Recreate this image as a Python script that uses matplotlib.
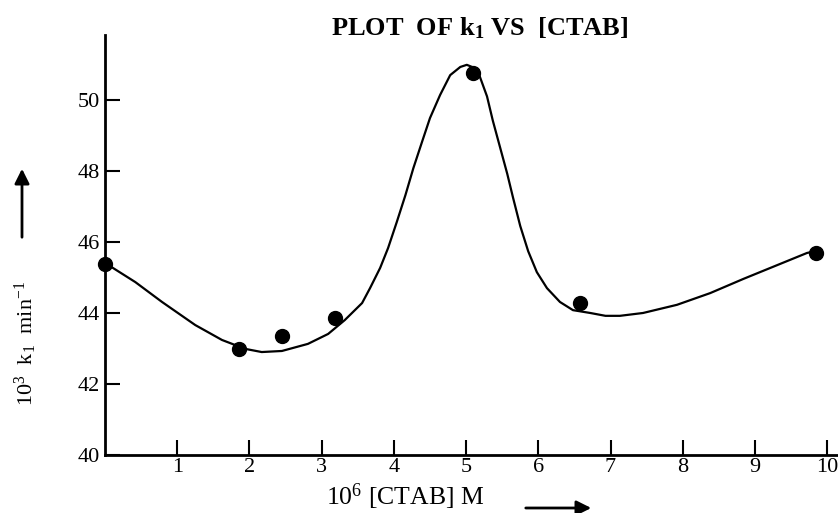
import matplotlib
matplotlib.use("Agg")
import matplotlib.pyplot as plt

# k1 vs [CTAB]: measured points plus the hand-drawn smooth curve through them

conc = [0.0, 1.86, 2.45, 3.19, 5.10, 6.58, 9.85]
k1 = [45.38, 42.99, 43.35, 43.86, 50.76, 44.28, 45.69]

curve_x = [0.00, 0.42, 0.79, 1.25, 1.62, 1.94, 2.17, 2.45, 2.81, 3.09, 3.32, 3.46,
           3.56, 3.67, 3.81, 3.92, 4.04, 4.16, 4.27, 4.39, 4.50, 4.64, 4.78, 4.92,
           5.01, 5.12, 5.19, 5.29, 5.37, 5.47, 5.57, 5.65, 5.75, 5.86, 5.98, 6.12,
           6.30, 6.48, 6.72, 6.93, 7.13, 7.45, 7.92, 8.38, 8.84, 9.31, 9.72, 9.85]
curve_y = [45.41, 44.87, 44.31, 43.66, 43.24, 42.99, 42.90, 42.93, 43.13, 43.41, 43.80, 44.08,
           44.28, 44.70, 45.27, 45.83, 46.56, 47.32, 48.08, 48.82, 49.49, 50.14, 50.70, 50.93,
           50.99, 50.90, 50.66, 50.10, 49.42, 48.67, 47.92, 47.25, 46.45, 45.74, 45.15, 44.70,
           44.31, 44.08, 44.00, 43.92, 43.92, 44.00, 44.23, 44.56, 44.96, 45.35, 45.69, 45.75]

x_ticks = [1, 2, 3, 4, 5, 6, 7, 8, 9, 10]
y_ticks = [40, 42, 44, 46, 48, 50]

plt.rcParams["font.family"] = ["Liberation Serif", "DejaVu Serif"]
plt.rcParams["mathtext.fontset"] = "custom"
plt.rcParams["mathtext.rm"] = "Liberation Serif"
plt.rcParams["mathtext.it"] = "Liberation Serif:italic"
plt.rcParams["mathtext.bf"] = "Liberation Serif:bold"

W, H = 838, 513
fig = plt.figure(figsize=(W / 100, H / 100), dpi=100)
ax = fig.add_axes([105 / W, 1 - 455 / H, 1 - 105 / W, 420 / H])

ax.plot(curve_x, curve_y, color="black", lw=1.6, zorder=2, solid_joinstyle="round")
ax.plot(conc, k1, "o", color="black", ms=10, zorder=3, clip_on=False)

ax.set_xlim(0, 10.15)
ax.set_ylim(40, 51.83)
ax.set_xticks(x_ticks)
ax.set_yticks(y_ticks)
ax.tick_params(axis="both", direction="in", length=11, width=1.5,
               labelsize=16, pad=2)
ax.tick_params(axis="y", pad=4)

for side in ["top", "right"]:
    ax.spines[side].set_visible(False)
for side in ["left", "bottom"]:
    ax.spines[side].set_linewidth(2)

fig.text(480 / W, 1 - 28 / H, r"PLOT  OF k$_\mathbf{1}$ VS  [CTAB]",
         ha="center", va="center", fontsize=19, fontweight="bold")
fig.text(405 / W, 1 - 497 / H, r"10$^{6}$ [CTAB] M",
         ha="center", va="center", fontsize=18.5)
fig.text(26 / W, 1 - 343 / H, r"10$^{3}$  k$_{1}$  min$^{-1}$",
         ha="center", va="center", fontsize=16, rotation=90)

arrow = dict(arrowstyle="-|>", lw=2, color="black", mutation_scale=22)
ax.annotate("", xy=(594 / W, 1 - 508 / H), xytext=(523 / W, 1 - 508 / H),
            xycoords="figure fraction", arrowprops=arrow)
ax.annotate("", xy=(22 / W, 1 - 166 / H), xytext=(22 / W, 1 - 240 / H),
            xycoords="figure fraction", arrowprops=arrow)

fig.savefig("out.png", dpi=100)
